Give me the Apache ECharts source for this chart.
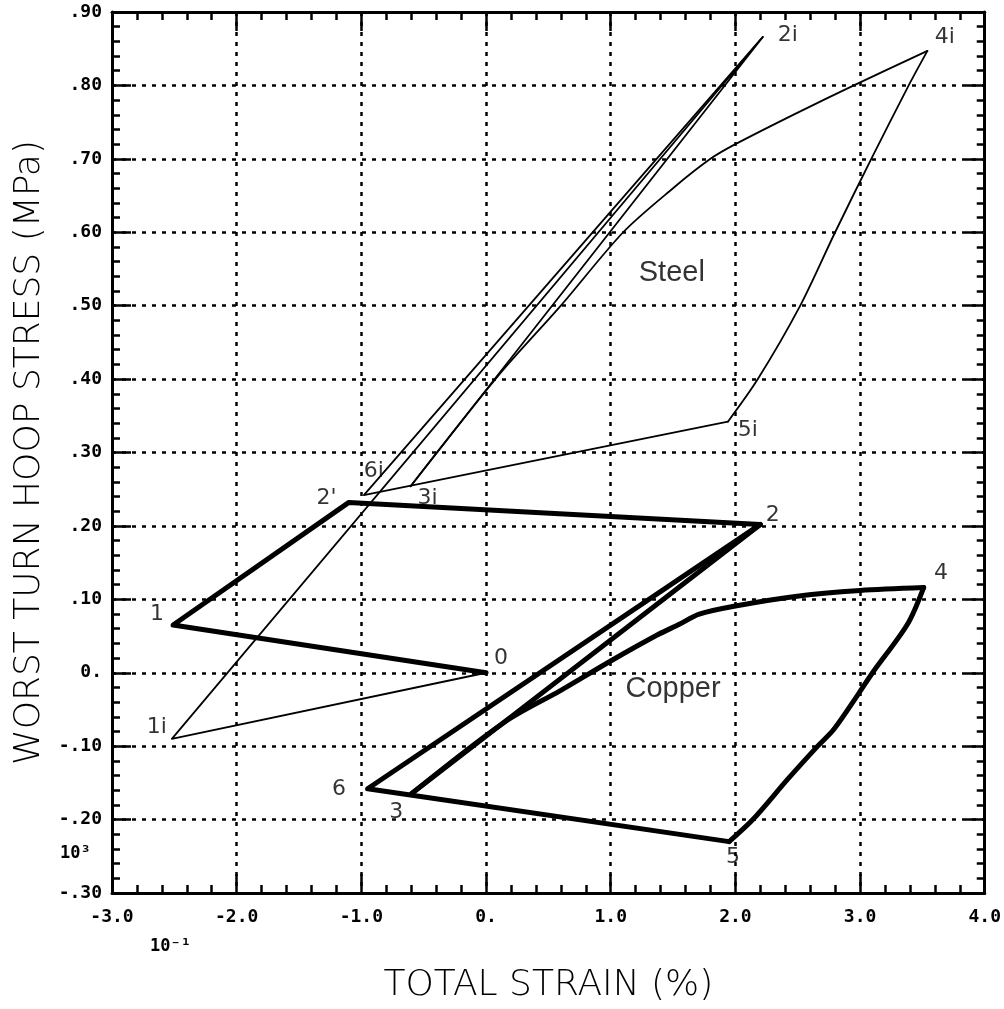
<!DOCTYPE html>
<html>
<head>
<meta charset="utf-8">
<script src="https://cdn.jsdelivr.net/npm/echarts@6/dist/echarts.min.js"></script>
<style>html,body{margin:0;padding:0;background:#fff}#c{width:1004px;height:1009px}</style>
</head>
<body>
<div id="c"></div>
<script>
// ---- tick labels ----
const xTickValues = [-3, -2, -1, 0, 1, 2, 3, 4];
const xTickLabels = ['-3.0', '-2.0', '-1.0', '0.', '1.0', '2.0', '3.0', '4.0'];
const yTickValues = [-0.3, -0.2, -0.1, 0, 0.1, 0.2, 0.3, 0.4, 0.5, 0.6, 0.7, 0.8, 0.9];
const yTickLabels = ['-.30', '-.20', '-.10', '0.', '.10', '.20', '.30', '.40', '.50', '.60', '.70', '.80', '.90'];

// ---- Copper (thick) : 0 -> 1 -> 2' -> 2 -> 3 -> 4 -> 5 -> 6 -> 2 ----
const copperStraightA = [[0, 0], [-2.51, 0.065], [-1.1, 0.232], [2.2, 0.202], [-0.6, -0.165]];
const copperLoad34 = [[-0.6, -0.165], [0.15, -0.067], [0.6, -0.024], [1.0, 0.016], [1.38, 0.052], [1.55, 0.066], [1.71, 0.08], [2.0, 0.091], [2.48, 0.104], [3.0, 0.112], [3.51, 0.116]];
const copperUnload45 = [[3.51, 0.116], [3.38, 0.066], [3.1, 0.0], [2.99, -0.028], [2.79, -0.077], [2.66, -0.1], [2.42, -0.145], [2.14, -0.2], [1.95, -0.23]];
const copperStraightB = [[1.95, -0.23], [-0.95, -0.158], [2.2, 0.202]];

// ---- Steel (thin) : 0 -> 1i -> 2i -> 3i -> 4i -> 5i -> 6i -> 2i ----
const steelStraightA = [[0, 0], [-2.52, -0.09], [2.22, 0.866], [-0.605, 0.254]];
const steelLoad34 = [[-0.605, 0.254], [0.1, 0.405], [0.6, 0.5], [1.1, 0.6], [1.5, 0.66], [1.8, 0.7], [2.0, 0.72], [2.5, 0.763], [2.95, 0.8], [3.54, 0.847]];
const steelUnload45 = [[3.54, 0.847], [3.39, 0.8], [3.09, 0.7], [2.8, 0.6], [2.52, 0.5], [2.18, 0.4], [1.94, 0.342]];
const steelStraightB = [[1.94, 0.342], [-0.98, 0.242], [2.22, 0.866]];

// ---- point annotations ----
const pointLabelNames = ['0', '1', "2'", '2', '3', '4', '5', '6', '1i', '2i', '3i', '4i', '5i', '6i'];
const pointLabelCoords = [[0.12, 0.02], [-2.64, 0.08], [-1.28, 0.237], [2.3, 0.214], [-0.72, -0.19], [3.65, 0.135], [1.98, -0.252], [-1.18, -0.159],
                          [-2.64, -0.074], [2.42, 0.868], [-0.47, 0.238], [3.68, 0.866], [2.1, 0.33], [-0.9, 0.275]];
const materialNames = ['Steel', 'Copper'];
const materialCoords = [[1.49, 0.544], [1.5, -0.022]];

const chart = echarts.init(document.getElementById('c'), null, {renderer: 'canvas'});

const tickFont = {fontFamily: 'DejaVu Sans Mono', fontWeight: 'bold', fontSize: 18, color: '#000'};
const titleFont = {fontFamily: 'DejaVu Sans', fontWeight: 200, fontSize: 36, color: '#000'};
const axisLine = {show: true, onZero: false, lineStyle: {color: '#000', width: 3}};
const majorTick = {show: true, inside: true, length: 19, lineStyle: {color: '#000', width: 2.5}};
const minorTick = {show: true, splitNumber: 5, length: 8, lineStyle: {color: '#000', width: 2.5}};
const gridDash = {show: true, lineStyle: {color: '#000', width: 2.5, type: [4, 6]}};

function xLabel(v) { const i = xTickValues.findIndex(t => Math.abs(t - v) < 1e-6); return i >= 0 ? xTickLabels[i] : ''; }
function yLabel(v) { const i = yTickValues.findIndex(t => Math.abs(t - v) < 1e-6); return i >= 0 ? yTickLabels[i] : ''; }

function lineSeries(name, data, width, smooth) {
  return {
    name: name, type: 'line', data: data, showSymbol: false, symbol: 'none',
    smooth: smooth, lineStyle: {color: '#000', width: width, join: 'round', cap: 'round'},
    z: 5, silent: true
  };
}

const option = {
  animation: false,
  backgroundColor: '#fff',
  grid: {left: 112, right: 16, top: 12, bottom: 112},
  xAxis: [
    {
      type: 'value', min: -3, max: 4, interval: 1, position: 'bottom',
      axisLine: axisLine, axisTick: majorTick, minorTick: minorTick, splitLine: gridDash,
      axisLabel: Object.assign({formatter: xLabel, margin: 15}, tickFont),
      name: 'TOTAL STRAIN (%)', nameLocation: 'middle', nameGap: 75, nameTextStyle: titleFont
    },
    {
      type: 'value', min: -3, max: 4, interval: 1, position: 'top',
      axisLine: axisLine, axisTick: majorTick, minorTick: minorTick,
      splitLine: {show: false}, axisLabel: {show: false}
    }
  ],
  yAxis: [
    {
      type: 'value', min: -0.3, max: 0.9, interval: 0.1, position: 'left',
      axisLine: axisLine, axisTick: majorTick, minorTick: minorTick, splitLine: gridDash,
      axisLabel: Object.assign({formatter: yLabel, margin: 10}, tickFont),
      name: 'WORST TURN HOOP STRESS (MPa)', nameLocation: 'middle', nameGap: 46, nameTextStyle: titleFont
    },
    {
      type: 'value', min: -0.3, max: 0.9, interval: 0.1, position: 'right',
      axisLine: axisLine, axisTick: majorTick, minorTick: minorTick,
      splitLine: {show: false}, axisLabel: {show: false}
    }
  ],
  series: [
    lineSeries('Copper 0-1-2\'-2-3', copperStraightA, 5, false),
    lineSeries('Copper 3-4', copperLoad34, 5, 0.3),
    lineSeries('Copper 4-5', copperUnload45, 5, 0.3),
    lineSeries('Copper 5-6-2', copperStraightB, 5, false),
    lineSeries('Steel 0-1i-2i-3i', steelStraightA, 1.8, false),
    lineSeries('Steel 3i-4i', steelLoad34, 1.8, 0.3),
    lineSeries('Steel 4i-5i', steelUnload45, 1.8, 0.3),
    lineSeries('Steel 5i-6i-2i', steelStraightB, 1.8, false),
    {
      name: 'Point labels', type: 'scatter', symbolSize: 0, silent: true, z: 6,
      data: pointLabelNames.map((n, i) => ({name: n, value: pointLabelCoords[i]})),
      label: {show: true, position: 'inside', formatter: p => p.name,
              fontFamily: 'DejaVu Sans', fontSize: 22, color: '#000'}
    },
    {
      name: 'Material labels', type: 'scatter', symbolSize: 0, silent: true, z: 6,
      data: materialNames.map((n, i) => ({name: n, value: materialCoords[i]})),
      label: {show: true, position: 'inside', formatter: p => p.name,
              fontFamily: 'Liberation Sans', fontSize: 29, color: '#000'}
    }
  ],
  graphic: [
    {type: 'text', left: 60, top: 845, style: {text: '10³', fontFamily: 'DejaVu Sans Mono', fontWeight: 'bold', fontSize: 17, fill: '#000'}},
    {type: 'text', left: 150, top: 938, style: {text: '10⁻¹', fontFamily: 'DejaVu Sans Mono', fontWeight: 'bold', fontSize: 17, fill: '#000'}}
  ]
};
chart.setOption(option);
</script>
</body>
</html>
